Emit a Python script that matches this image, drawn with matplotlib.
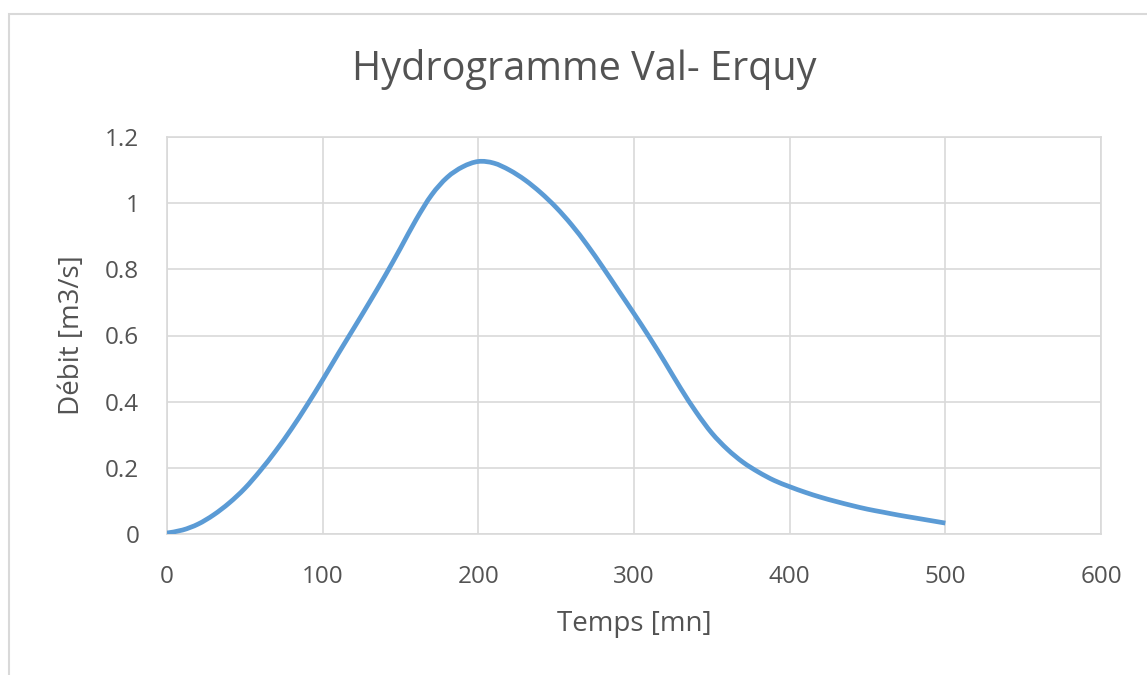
import numpy as np
import matplotlib.pyplot as plt
from matplotlib.patches import Rectangle, PathPatch
from matplotlib.path import Path

# hydrogramme: temps [mn] / debit [m3/s]
temps = [0, 10, 20, 30, 40, 50, 60, 70, 80, 90,
         100, 110, 120, 130, 140, 150, 160, 170, 180, 190,
         200, 210, 220, 230, 240, 250, 260, 270, 280, 290,
         300, 310, 320, 330, 340, 350, 360, 370, 380, 390,
         400, 410, 420, 430, 440, 450, 460, 470, 480, 490, 500]
debit = [0.003, 0.012, 0.030, 0.058, 0.094, 0.138, 0.192, 0.252, 0.318, 0.390,
         0.466, 0.545, 0.622, 0.700, 0.780, 0.864, 0.950, 1.025, 1.078, 1.110,
         1.126, 1.121, 1.100, 1.070, 1.032, 0.987, 0.934, 0.873, 0.806, 0.736,
         0.666, 0.594, 0.518, 0.440, 0.368, 0.305, 0.256, 0.217, 0.187, 0.162,
         0.143, 0.126, 0.111, 0.098, 0.086, 0.075, 0.066, 0.057, 0.049, 0.041, 0.033]

x_ticks = [0, 100, 200, 300, 400, 500, 600]
y_ticks = [0, 0.2, 0.4, 0.6, 0.8, 1.0, 1.2]
y_labels = ['0', '0.2', '0.4', '0.6', '0.8', '1', '1.2']

plt.rcParams['font.family'] = ['Open Sans', 'DejaVu Sans']
txt = '#535353'
grid = '#d9d9d9'


def smooth_path(x, y):
    # smoothed line like a spreadsheet "scatter with smooth lines":
    # bezier segments with catmull-rom control points
    p = np.column_stack([x, y]).astype(float)
    ext = np.vstack([p[0], p, p[-1]])
    verts = [p[0]]
    codes = [Path.MOVETO]
    for i in range(1, len(ext) - 2):
        p0, p1, p2, p3 = ext[i - 1], ext[i], ext[i + 1], ext[i + 2]
        verts += [p1 + (p2 - p0) / 6, p2 - (p3 - p1) / 6, p2]
        codes += [Path.CURVE4] * 3
    return Path(verts, codes)


W, H = 1147, 675
fig = plt.figure(figsize=(W / 100, H / 100), dpi=100)

# chart frame
fig.patches.append(Rectangle((9 / W, -0.1), 1.2, 1 - 14 / H + 0.1,
                             transform=fig.transFigure, fill=False,
                             edgecolor=grid, lw=1.5))

ax = fig.add_axes([167 / W, 1 - 534 / H, (1101 - 167) / W, (534 - 137) / H])
ax.add_patch(PathPatch(smooth_path(temps, debit), fill=False,
                       edgecolor='#5b9bd5', lw=3.4, capstyle='butt', zorder=3))

ax.set_xlim(0, 600)
ax.set_ylim(0, 1.2)
ax.set_xticks(x_ticks)
ax.set_yticks(y_ticks)
ax.set_yticklabels(y_labels)
ax.grid(True, color=grid, lw=1.2)
ax.set_axisbelow(True)
ax.tick_params(length=0, labelsize=17.5, colors=txt)
ax.tick_params(axis='x', pad=22)
ax.tick_params(axis='y', pad=20)
for s in ax.spines.values():
    s.set_color(grid)
    s.set_linewidth(1.2)

ax.set_xlabel('Temps [mn]', fontsize=20, color=txt, va='center')
ax.xaxis.set_label_coords(0.5, -(624 - 534) / (534 - 137))
ax.set_ylabel('Débit [m3/s]', fontsize=20, color=txt, va='center')
ax.yaxis.set_label_coords(-(167 - 72) / (1101 - 167), 0.5)

fig.text(584 / W, 1 - 80 / H, 'Hydrogramme Val- Erquy', ha='center',
         va='baseline', fontsize=28.5, color=txt)

fig.savefig('out.png', dpi=100)
